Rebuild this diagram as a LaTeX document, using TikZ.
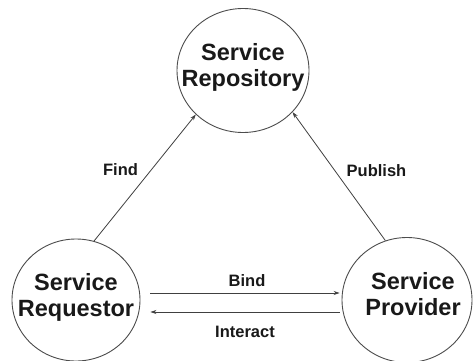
\documentclass[tikz,border=0pt]{standalone}
\usepackage{fontspec}
\setmainfont{Liberation Sans}
\usetikzlibrary{shapes.geometric,arrows.meta}
\begin{document}
\begin{tikzpicture}[x=1pt,y=1pt,
  ent/.style={ellipse,draw=black!70,line width=0.9pt,inner sep=0pt},
  big/.style={font=\bfseries\fontsize{23.5}{26}\selectfont,align=center,text=black!90},
  lbl/.style={font=\bfseries\fontsize{16.5}{19}\selectfont,text=black!90},
  conn/.style={draw=black!75,line width=0.8pt,-{Stealth[length=6pt,width=4pt]}}]
\fill[white] (0,0) rectangle (473,360);
\useasboundingbox (0,0) rectangle (473,360);
% circles
\node[ent,minimum width=132pt,minimum height=124pt] (T) at (243,289.5) {};
\node[ent,minimum width=128pt,minimum height=122pt] (L) at (76,60) {};
\node[ent,minimum width=130pt,minimum height=125pt] (R) at (407,60) {};
% texts
\node[big] (Tt) at (243,293) {Service\\Repository};
\node[big] (Lt) at (76,63) {Service\\Requestor};
\node[big] (Rt) at (413,65.5) {Service\\Provider};
% connectors
\draw[conn] (L.73.2) -- (T.-137.5);
\draw[conn] (R.110.3) -- (T.-40.6);
\draw[conn] ([shift={(10pt,7pt)}]L.east) -- ([shift={(-2pt,7pt)}]R.west);
\draw[conn] ([shift={(-2pt,-12pt)}]R.west) -- ([shift={(10pt,-12pt)}]L.east);
% labels
\node[lbl] (find) at (120.5,190) {Find};
\node[lbl] (pub) at (376.5,189) {Publish};
\node[lbl] (bind) at (247,79) {Bind};
\node[lbl] (inter) at (245,28) {Interact};
\end{tikzpicture}
\end{document}
